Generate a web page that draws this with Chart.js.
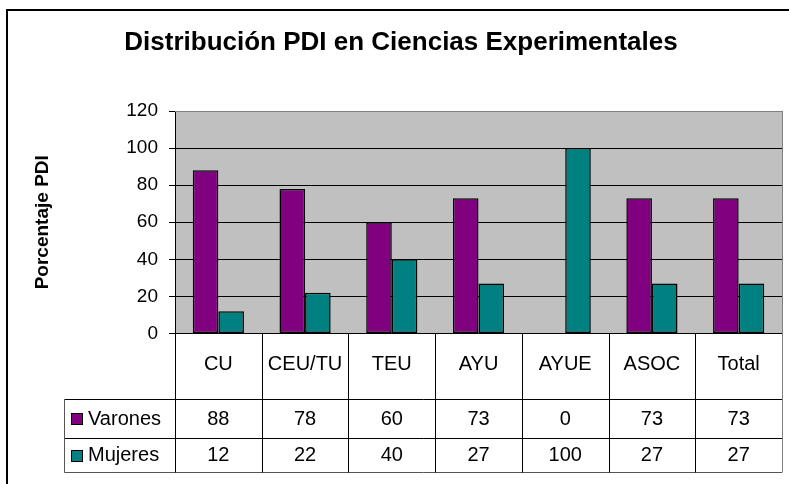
<!DOCTYPE html>
<html lang="es">
<head>
    <meta charset="UTF-8">
    <title>Distribución PDI en Ciencias Experimentales</title>
    <style>
        html, body {
            margin: 0;
            padding: 0;
            background: #fff;
        }

        .chart-container {
            width: 789px;
            height: 484px;
            position: relative;
        }
    </style>
</head>
<body>

<div class="chart-container">
    <canvas id="chartCanvas"></canvas>
</div>

<script src="https://cdn.jsdelivr.net/npm/chart.js"></script>
<script>
    const categories = ['CU', 'CEU/TU', 'TEU', 'AYU', 'AYUE', 'ASOC', 'Total'];
    const varones = [88, 78, 60, 73, 0, 73, 73];
    const mujeres = [12, 22, 40, 27, 100, 27, 27];
    const seriesNames = ['Varones', 'Mujeres'];
    const seriesColors = ['#800080', '#008080'];

    const fontFamily = '"Liberation Sans", Arial, sans-serif';

    // white background, outer frame and grey plot area
    const backgroundPlugin = {
        id: 'background',
        beforeDraw(chart) {
            const ctx = chart.ctx;
            const area = chart.chartArea;
            ctx.save();
            ctx.fillStyle = '#fff';
            ctx.fillRect(0, 0, chart.width, chart.height);
            ctx.fillStyle = '#000';
            ctx.fillRect(6, 9, chart.width, 2);
            ctx.fillRect(6, 9, 2, chart.height);
            ctx.fillStyle = '#c0c0c0';
            ctx.fillRect(area.left, area.top, area.width, area.height);
            ctx.restore();
        }
    };

    // data table under the plot, positioned from the x scale
    const dataTablePlugin = {
        id: 'dataTable',
        afterDraw(chart) {
            const ctx = chart.ctx;
            const area = chart.chartArea;
            const xScale = chart.scales.x;
            const n = categories.length;
            const cw = area.width / n;
            const legendLeft = 64.5;
            const rowLines = [area.bottom + 65, area.bottom + 104, area.bottom + 138];

            ctx.save();
            ctx.lineWidth = 1;

            // horizontal lines
            rowLines.forEach((y, i) => {
                ctx.strokeStyle = i === rowLines.length - 1 ? '#555' : '#000';
                ctx.beginPath();
                ctx.moveTo(legendLeft, Math.round(y) + 0.5);
                ctx.lineTo(area.right, Math.round(y) + 0.5);
                ctx.stroke();
            });

            // vertical lines
            ctx.strokeStyle = '#555';
            ctx.beginPath();
            ctx.moveTo(legendLeft, Math.round(rowLines[0]) + 0.5);
            ctx.lineTo(legendLeft, Math.round(rowLines[2]) + 0.5);
            ctx.stroke();
            for (let i = 0; i <= n; i++) {
                const bx = Math.round(xScale.getPixelForValue(0) - cw / 2 + i * cw) + 0.5;
                ctx.strokeStyle = i === n ? '#808080' : '#000';
                ctx.beginPath();
                ctx.moveTo(bx, i === n ? area.top : area.bottom);
                ctx.lineTo(bx, Math.round(rowLines[2]) + 0.5);
                ctx.stroke();
            }

            // plot border top
            ctx.strokeStyle = '#808080';
            ctx.beginPath();
            ctx.moveTo(area.left, Math.round(area.top) + 0.5);
            ctx.lineTo(area.right, Math.round(area.top) + 0.5);
            ctx.stroke();

            // rows
            const rows = [varones, mujeres];
            ctx.font = '20px ' + fontFamily;
            ctx.textBaseline = 'middle';
            rows.forEach((values, r) => {
                const cy = (rowLines[r] + rowLines[r + 1]) / 2 + 1;
                ctx.fillStyle = seriesColors[r];
                ctx.fillRect(71, Math.round(cy - 6), 12, 12);
                ctx.strokeStyle = '#000';
                ctx.strokeRect(71.5, Math.round(cy - 6) + 0.5, 11, 11);
                ctx.fillStyle = '#000';
                ctx.textAlign = 'left';
                ctx.fillText(seriesNames[r], 88, cy);
                ctx.textAlign = 'center';
                values.forEach((v, i) => {
                    ctx.fillText(String(v), xScale.getPixelForValue(i), cy);
                });
            });
            ctx.restore();
        }
    };

    const ctx = document.getElementById('chartCanvas').getContext('2d');
    const barChart = new Chart(ctx, {
        type: 'bar',
        data: {
            labels: categories,
            datasets: [
                {
                    label: seriesNames[0],
                    data: varones,
                    backgroundColor: seriesColors[0],
                    borderColor: '#000',
                    borderWidth: 1.5,
                    borderSkipped: false
                },
                {
                    label: seriesNames[1],
                    data: mujeres,
                    backgroundColor: seriesColors[1],
                    borderColor: '#000',
                    borderWidth: 1.5,
                    borderSkipped: false
                }
            ]
        },
        options: {
            responsive: true,
            maintainAspectRatio: false,
            animation: false,
            datasets: {
                bar: {
                    categoryPercentage: 0.59,
                    barPercentage: 1.0
                }
            },
            layout: {
                padding: { left: 20, right: 7, top: 0, bottom: 97.5 }
            },
            plugins: {
                legend: { display: false },
                tooltip: { enabled: false },
                title: {
                    display: true,
                    text: 'Distribución PDI en Ciencias Experimentales',
                    color: '#000',
                    font: { family: fontFamily, size: 26, weight: 'bold' },
                    padding: { top: 27.4, bottom: 52.4 }
                }
            },
            scales: {
                x: {
                    grid: { display: false },
                    border: { display: true, color: '#000', width: 1 },
                    ticks: {
                        color: '#000',
                        font: { family: fontFamily, size: 20 },
                        padding: 10.5,
                        autoSkip: false,
                        maxRotation: 0,
                        minRotation: 0
                    }
                },
                y: {
                    min: 0,
                    max: 120,
                    afterFit(scale) {
                        scale.width = 155;
                    },
                    border: { display: true, color: '#000', width: 1 },
                    grid: {
                        color: c => (c.tick && c.tick.value === 120 ? '#808080' : '#000'),
                        tickColor: '#000',
                        tickLength: 6,
                        lineWidth: 1
                    },
                    ticks: {
                        stepSize: 20,
                        color: '#000',
                        padding: 11,
                        font: { family: fontFamily, size: 19 }
                    },
                    title: {
                        display: true,
                        text: 'Porcentaje PDI',
                        color: '#000',
                        font: { family: fontFamily, size: 19, weight: 'bold' },
                        padding: { top: 11.6, bottom: 0 }
                    }
                }
            }
        },
        plugins: [backgroundPlugin, dataTablePlugin]
    });
</script>

</body>
</html>
